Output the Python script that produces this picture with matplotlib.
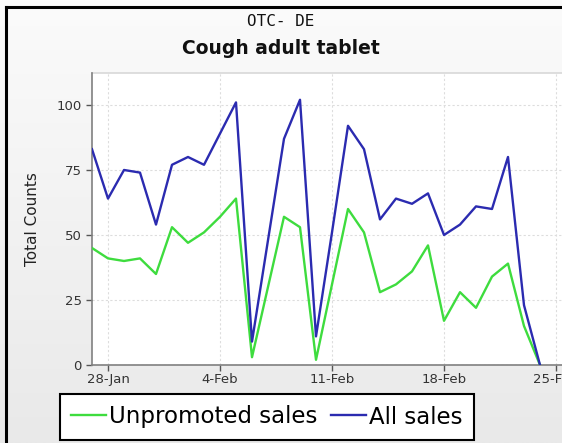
import numpy as np
import pandas as pd
import matplotlib
matplotlib.use("Agg")
import matplotlib.pyplot as plt
import matplotlib.dates as mdates
from matplotlib.lines import Line2D
from matplotlib.colors import LinearSegmentedColormap

# ---- data ----
dates = pd.date_range("2013-01-27", "2013-02-24", freq="D")
all_sales = [83, 64, 75, 74, 54, 77, 80, 77, 89, 101, 9, 48, 87, 102, 11, 51,
             92, 83, 56, 64, 62, 66, 50, 54, 61, 60, 80, 23, 0]
unpromoted = [45, 41, 40, 41, 35, 53, 47, 51, 57, 64, 3, 30, 57, 53, 2, 31,
              60, 51, 28, 31, 36, 46, 17, 28, 22, 34, 39, 15, 0]
tick_dates = pd.to_datetime(["2013-01-28", "2013-02-04", "2013-02-11",
                             "2013-02-18", "2013-02-25"])
tick_labels = ["28-Jan", "4-Feb", "11-Feb", "18-Feb", "25-Feb"]
y_ticks = [0, 25, 50, 75, 100]

W, H = 562, 443
fig = plt.figure(figsize=(W / 100, H / 100), dpi=100)

# background gradient
bg = fig.add_axes([0, 0, 1, 1], zorder=-10)
grad = np.linspace(0, 1, 256).reshape(-1, 1)
cm = LinearSegmentedColormap.from_list("g", ["#fbfbfb", "#e9e9e9"])
bg.imshow(grad, aspect="auto", cmap=cm, extent=[0, 1, 0, 1])
bg.set_axis_off()

# border lines (left and top)
fig.add_artist(Line2D([5.5 / W, 5.5 / W], [0, 1 - 6.5 / H], color="black", lw=2.2,
                      transform=fig.transFigure))
fig.add_artist(Line2D([5.5 / W, 1], [1 - 6.5 / H, 1 - 6.5 / H], color="black", lw=2.2,
                      transform=fig.transFigure))

left, right, top, bottom = 92 / W, 1.0, 1 - 73 / H, 1 - 365 / H
ax = fig.add_axes([left, bottom, right - left, top - bottom])
ax.set_facecolor("white")

l1, = ax.plot(dates, unpromoted, color="#3edc3e", lw=1.7, zorder=3, label="Unpromoted sales")
l2, = ax.plot(dates, all_sales, color="#2b2bb0", lw=1.7, zorder=4, label="All sales")

x0 = mdates.date2num(dates[0])
ax.set_xlim(x0, x0 + (W - 92) / 16.0)
ax.set_ylim(0, 112.3)

ax.set_xticks(tick_dates)
ax.set_xticklabels(tick_labels)
ax.set_yticks(y_ticks)
ax.tick_params(axis="both", labelsize=9.5, colors="#555555", labelcolor="#333333",
               direction="out", length=4, width=1)
ax.tick_params(axis="x", pad=2)
ax.grid(True, color="#dddddd", linestyle=(0, (2, 2)), lw=0.8)
for s in ["top", "right"]:
    ax.spines[s].set_visible(False)
for s in ["left", "bottom"]:
    ax.spines[s].set_color("#808080")
    ax.spines[s].set_linewidth(1.2)
ax.axhline(112.3, color="#d8d8d8", lw=1.2, clip_on=False)

ax.set_ylabel("Total Counts", fontsize=11, color="#222222", labelpad=12)

fig.text(0.5, 1 - 22 / H, "OTC- DE", ha="center", va="center", fontsize=11.5,
         family="DejaVu Sans Mono", color="#111111")
fig.text(0.5, 1 - 49 / H, "Cough adult tablet", ha="center", va="center", fontsize=13.5,
         fontweight="bold", color="#111111")

leg = fig.legend(handles=[l1, l2], loc="center", bbox_to_anchor=(267 / W, 1 - 417 / H),
                 ncol=2, fontsize=16.5, frameon=True, fancybox=False, handlelength=1.5,
                 handletextpad=0.15, columnspacing=0.6, borderpad=0.5, borderaxespad=0)
leg.get_frame().set_edgecolor("black")
leg.get_frame().set_linewidth(1.5)
leg.get_frame().set_facecolor("white")
leg.get_frame().set_alpha(1)

fig.savefig("out.png", dpi=100)
